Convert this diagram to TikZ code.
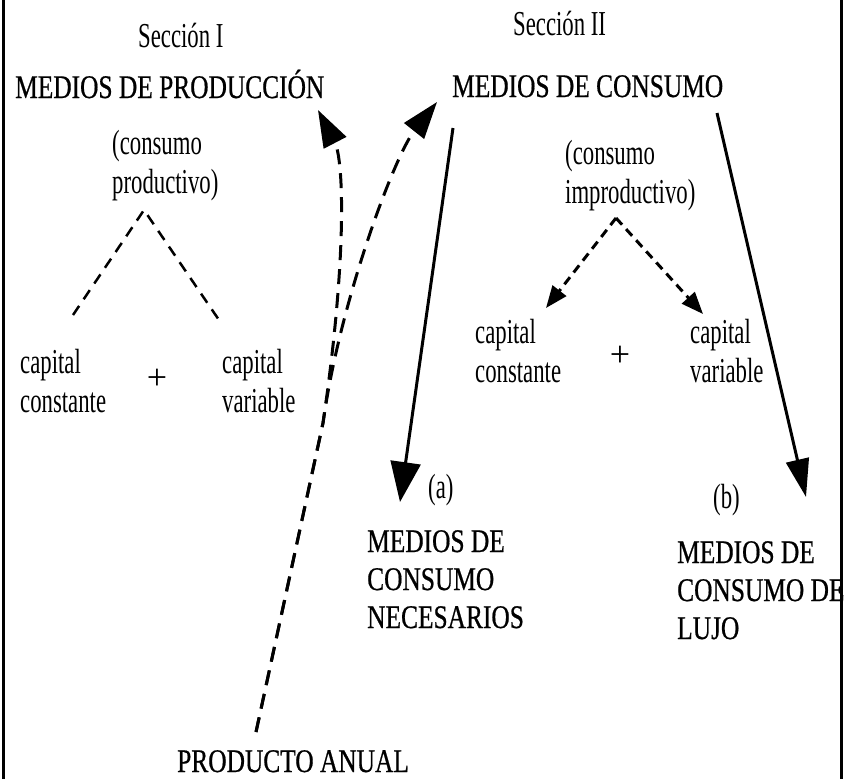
\documentclass[tikz,border=0pt]{standalone}
\usepackage{fontspec}
\setmainfont{Liberation Serif}
\newfontfamily\titfont[FakeStretch=0.77,FakeBold=0.6]{Liberation Serif}
\newfontfamily\labfont[FakeStretch=0.65]{Liberation Serif}
\usetikzlibrary{arrows.meta}

\tikzset{
	big/.style={font=\titfont\fontsize{33}{38}\selectfont, inner sep=0pt, anchor=base west, align=left},
	lab/.style={font=\labfont\fontsize{35}{39}\selectfont, inner sep=0pt, anchor=base west, align=left},
	plus/.style={font=\fontsize{36}{36}\selectfont, inner sep=0pt},
	flow/.style={line width=3pt},
	thin dash/.style={line width=2.5pt, dash pattern=on 11pt off 8pt},
	short dash/.style={line width=3pt, dash pattern=on 9pt off 6pt, -{Triangle[length=22pt,width=17pt]}},
	long dash/.style={line width=3pt, dash pattern=on 15pt off 9pt, -{Triangle[length=37pt,width=25pt]}}
}

\begin{document}
\begin{tikzpicture}[x=1pt,y=-1pt]
	\useasboundingbox (0,0) rectangle (845,779);
	\draw[line width=3pt] (3.5,0) -- (3.5,779);
	\draw[line width=3pt] (841,0) -- (841,779);

	% Seccion I (multi-line nodes sit on their last baseline)
	\node[lab] (secI) at (138,47) {Sección I};
	\node[big] (mprod) at (15,98) {MEDIOS DE PRODUCCIÓN};
	\node[lab] (cprod) at (112,193) {(consumo\\productivo)};
	\node[lab] (ccI) at (20,412) {capital\\constante};
	\node[plus] (plusI) at (157,379) {+};
	\node[lab] (cvI) at (222,412) {capital\\variable};

	% Seccion II
	\node[lab] (secII) at (513,35) {Sección II};
	\node[big] (mcons) at (452,97) {MEDIOS DE CONSUMO};
	\node[lab] (cimp) at (565,203) {(consumo\\improductivo)};
	\node[lab] (ccII) at (475,382) {capital\\constante};
	\node[plus] (plusII) at (620,356) {+};
	\node[lab] (cvII) at (690,382) {capital\\variable};

	\node[lab] (la) at (428,498) {(a)};
	\node[big] (nec) at (367,628) {MEDIOS DE\\CONSUMO\\NECESARIOS};
	\node[lab] (lb) at (713,508) {(b)};
	\node[big] (lujo) at (677,639) {MEDIOS DE\\CONSUMO DE\\LUJO};
	\node[big] (anual) at (177,772) {PRODUCTO ANUAL};

	% ends of the connectors
	\coordinate (topI) at (144,210);
	\coordinate (ccIend) at (73,315);
	\coordinate (cvIend) at (219,320);
	\coordinate (topII) at (616,218);
	\coordinate (ccIIend) at (546,308);
	\coordinate (cvIIend) at (703,314);
	\coordinate (aStart) at (453,128);
	\coordinate (aEnd) at (400,502);
	\coordinate (bStart) at (717,113);
	\coordinate (bEnd) at (806,497);
	\coordinate (anualTop) at (256,732);
	\coordinate (fork) at (323,423);
	\coordinate (mprodEnd) at (318,110);
	\coordinate (mconsEnd) at (437,102);

	\draw[thin dash] (ccIend) -- (topI) -- (cvIend);
	\draw[short dash] (topII) -- (ccIIend);
	\draw[short dash] (topII) -- (cvIIend);

	\draw[flow, -{Triangle[length=40pt,width=30pt]}] (aStart) -- (aEnd);
	\draw[flow, -{Triangle[length=38pt,width=23pt]}] (bStart) -- (bEnd);

	\draw[long dash] (anualTop) -- (fork) .. controls (347,260) and (344,160) .. (mprodEnd);
	\draw[long dash] (anualTop) -- (fork) .. controls (340,300) and (395,155) .. (mconsEnd);
\end{tikzpicture}
\end{document}
